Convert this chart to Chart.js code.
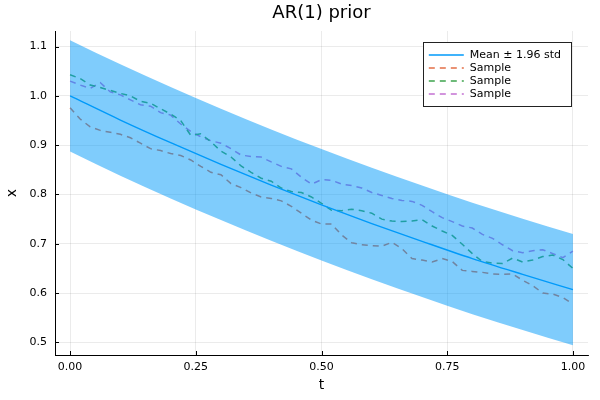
<!DOCTYPE html>
<html lang="en">
<head>
    <meta charset="UTF-8">
    <title>AR(1) prior</title>
    <script src="https://cdn.jsdelivr.net/npm/chart.js"></script>
    <style>
        html, body { margin: 0; padding: 0; background: white; }
        #wrap { width: 600px; height: 400px; }
    </style>
</head>
<body>
    <div id="wrap"><canvas id="plot"></canvas></div>

    <script>
        // band / mean, every 0.1
        const bandT = [0, 0.1, 0.2, 0.3, 0.4, 0.5, 0.6, 0.7, 0.8, 0.9, 1.0];
        const meanVals = [1.000, 0.951, 0.905, 0.861, 0.819, 0.779, 0.741, 0.705, 0.670, 0.638, 0.607];
        const upperVals = [1.113, 1.064, 1.018, 0.974, 0.932, 0.892, 0.854, 0.818, 0.783, 0.751, 0.720];
        const lowerVals = [0.887, 0.838, 0.792, 0.748, 0.706, 0.666, 0.628, 0.592, 0.557, 0.525, 0.494];

        // samples, read every 0.02
        const sampleT = [0, 0.02, 0.04, 0.06, 0.08, 0.10, 0.12, 0.14, 0.16, 0.18,
            0.20, 0.22, 0.24, 0.26, 0.28, 0.30, 0.32, 0.34, 0.36, 0.38,
            0.40, 0.42, 0.44, 0.46, 0.48, 0.50, 0.52, 0.54, 0.56, 0.58,
            0.60, 0.62, 0.64, 0.66, 0.68, 0.70, 0.72, 0.74, 0.76, 0.78,
            0.80, 0.82, 0.84, 0.86, 0.88, 0.90, 0.92, 0.94, 0.96, 0.98, 1.00];
        const sample1 = [0.976, 0.953, 0.937, 0.930, 0.926, 0.922, 0.915, 0.904, 0.893, 0.889,
            0.883, 0.879, 0.870, 0.857, 0.845, 0.840, 0.822, 0.814, 0.803, 0.795,
            0.792, 0.787, 0.776, 0.762, 0.748, 0.740, 0.740, 0.718, 0.702, 0.698,
            0.696, 0.695, 0.703, 0.690, 0.670, 0.667, 0.663, 0.670, 0.664, 0.646,
            0.644, 0.642, 0.639, 0.638, 0.639, 0.626, 0.615, 0.600, 0.598, 0.591, 0.578];
        const sample2 = [1.043, 1.035, 1.022, 1.017, 1.011, 1.005, 1.000, 0.989, 0.985, 0.974,
            0.963, 0.950, 0.920, 0.923, 0.907, 0.888, 0.876, 0.858, 0.845, 0.833,
            0.827, 0.813, 0.806, 0.804, 0.795, 0.782, 0.768, 0.767, 0.770, 0.767,
            0.762, 0.750, 0.746, 0.745, 0.746, 0.749, 0.736, 0.726, 0.717, 0.699,
            0.680, 0.664, 0.661, 0.660, 0.671, 0.663, 0.667, 0.674, 0.677, 0.668, 0.650];
        const sample3 = [1.030, 1.022, 1.015, 1.027, 1.008, 1.002, 0.992, 0.982, 0.979, 0.966,
            0.961, 0.943, 0.928, 0.917, 0.909, 0.904, 0.893, 0.880, 0.877, 0.876,
            0.866, 0.857, 0.852, 0.835, 0.821, 0.830, 0.829, 0.821, 0.818, 0.813,
            0.804, 0.798, 0.792, 0.788, 0.786, 0.778, 0.765, 0.753, 0.745, 0.736,
            0.732, 0.719, 0.711, 0.698, 0.686, 0.682, 0.686, 0.688, 0.680, 0.672, 0.685];

        const xTicks = [0, 0.25, 0.5, 0.75, 1.0];
        const yTicks = [0.5, 0.6, 0.7, 0.8, 0.9, 1.0, 1.1];

        const FONT = '"DejaVu Sans", sans-serif';
        const BLUE = '#009AFA';

        const pts = (xs, ys) => xs.map((x, i) => ({ x: x, y: ys[i] }));

        // legend, title and inward ticks, drawn like the Plots.jl (GR) look
        const plotsDecor = {
            id: 'plotsDecor',
            afterDraw(chart) {
                const ctx = chart.ctx;
                const area = chart.chartArea;
                ctx.save();

                // title
                ctx.fillStyle = '#000';
                ctx.font = '18px ' + FONT;
                ctx.textAlign = 'center';
                ctx.textBaseline = 'middle';
                ctx.fillText('AR(1) prior', (area.left + area.right) / 2, 13);

                // inward tick marks
                ctx.strokeStyle = '#000';
                ctx.lineWidth = 1;
                const xs = chart.scales.x, ys = chart.scales.y;
                xTicks.forEach(v => {
                    const px = Math.round(xs.getPixelForValue(v)) + 0.5;
                    ctx.beginPath();
                    ctx.moveTo(px, area.bottom);
                    ctx.lineTo(px, area.bottom - 4);
                    ctx.stroke();
                });
                yTicks.forEach(v => {
                    const py = Math.round(ys.getPixelForValue(v)) + 0.5;
                    ctx.beginPath();
                    ctx.moveTo(area.left, py);
                    ctx.lineTo(area.left + 4, py);
                    ctx.stroke();
                });

                // legend box
                const items = chart.data.datasets.filter(d => d.legend);
                ctx.font = '11px ' + FONT;
                const textW = Math.max(...items.map(d => ctx.measureText(d.label).width));
                const rowH = 13;
                const boxW = 6 + 35 + 6 + textW + 10;
                const boxH = items.length * rowH + 12;
                const bx = area.right - 17 - boxW;
                const by = area.top + 11;
                ctx.fillStyle = '#fff';
                ctx.fillRect(bx, by, boxW, boxH);
                ctx.strokeStyle = '#222';
                ctx.strokeRect(Math.round(bx) + 0.5, Math.round(by) + 0.5, Math.round(boxW), Math.round(boxH));
                items.forEach((d, i) => {
                    const cy = by + 13 + i * rowH;
                    ctx.strokeStyle = d.borderColor;
                    ctx.lineWidth = 1.5;
                    ctx.setLineDash(d.borderDash || []);
                    ctx.beginPath();
                    ctx.moveTo(bx + 6, cy);
                    ctx.lineTo(bx + 41, cy);
                    ctx.stroke();
                    ctx.setLineDash([]);
                    ctx.fillStyle = '#000';
                    ctx.textAlign = 'left';
                    ctx.textBaseline = 'middle';
                    ctx.fillText(d.label, bx + 47, cy);
                });
                ctx.restore();
            }
        };

        const ctx = document.getElementById('plot').getContext('2d');
        new Chart(ctx, {
            type: 'line',
            data: {
                datasets: [
                    {
                        label: 'upper',
                        data: pts(bandT, upperVals),
                        borderWidth: 0,
                        pointRadius: 0,
                        backgroundColor: 'rgba(0,154,250,0.5)',
                        fill: '+1',
                        cubicInterpolationMode: 'monotone'
                    },
                    {
                        label: 'lower',
                        data: pts(bandT, lowerVals),
                        borderWidth: 0,
                        pointRadius: 0,
                        fill: false,
                        cubicInterpolationMode: 'monotone'
                    },
                    {
                        label: 'Mean \u00b1 1.96 std',
                        legend: true,
                        data: pts(bandT, meanVals),
                        borderColor: BLUE,
                        borderWidth: 1.4,
                        pointRadius: 0,
                        fill: false,
                        cubicInterpolationMode: 'monotone'
                    },
                    {
                        label: 'Sample',
                        legend: true,
                        data: pts(sampleT, sample1),
                        borderColor: '#E36F47',
                        borderDash: [6, 5],
                        borderWidth: 1.5,
                        pointRadius: 0,
                        fill: false
                    },
                    {
                        label: 'Sample',
                        legend: true,
                        data: pts(sampleT, sample2),
                        borderColor: '#3EA44E',
                        borderDash: [6, 5],
                        borderWidth: 1.5,
                        pointRadius: 0,
                        fill: false
                    },
                    {
                        label: 'Sample',
                        legend: true,
                        data: pts(sampleT, sample3),
                        borderColor: '#C371D2',
                        borderDash: [6, 5],
                        borderWidth: 1.5,
                        pointRadius: 0,
                        fill: false
                    }
                ]
            },
            options: {
                responsive: true,
                maintainAspectRatio: false,
                animation: false,
                layout: { padding: { top: 31, right: 12, left: 0, bottom: 0 } },
                plugins: {
                    legend: { display: false },
                    title: { display: false },
                    tooltip: { enabled: false }
                },
                scales: {
                    x: {
                        type: 'linear',
                        min: -0.03,
                        max: 1.03,
                        afterBuildTicks: s => { s.ticks = xTicks.map(v => ({ value: v })); },
                        afterFit: s => { s.height = 45; },
                        grid: { color: 'rgba(0,0,0,0.1)', lineWidth: 0.8, tickLength: 0 },
                        border: { display: true, color: '#000', width: 1 },
                        ticks: {
                            color: '#000',
                            padding: 6,
                            maxRotation: 0,
                            font: { family: FONT, size: 11 },
                            callback: v => v.toFixed(2)
                        },
                        title: {
                            display: true,
                            text: 't',
                            color: '#000',
                            padding: { top: 0, bottom: 6 },
                            font: { family: FONT, size: 14 }
                        }
                    },
                    y: {
                        type: 'linear',
                        min: 0.4744,
                        max: 1.1316,
                        afterBuildTicks: s => { s.ticks = yTicks.map(v => ({ value: v })); },
                        afterFit: s => { s.width = 55; },
                        grid: { color: 'rgba(0,0,0,0.1)', lineWidth: 0.8, tickLength: 0 },
                        border: { display: true, color: '#000', width: 1 },
                        ticks: {
                            color: '#000',
                            padding: 8,
                            font: { family: FONT, size: 11 },
                            callback: v => v.toFixed(1)
                        },
                        title: {
                            display: true,
                            text: 'x',
                            color: '#000',
                            padding: { top: 4, bottom: 0 },
                            font: { family: FONT, size: 14 }
                        }
                    }
                }
            },
            plugins: [plotsDecor]
        });
    </script>
</body>
</html>
